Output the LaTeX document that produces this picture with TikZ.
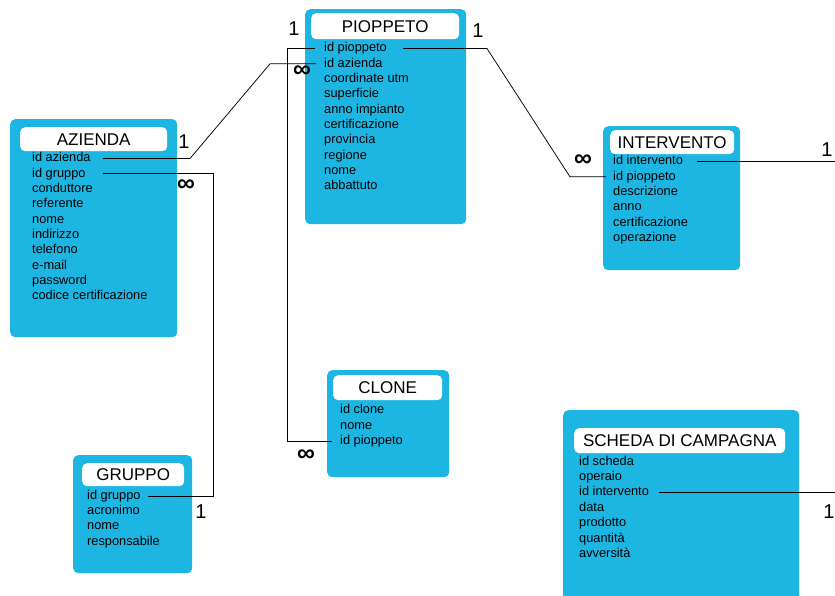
\documentclass[tikz,border=0pt]{standalone}
\usepackage{fontspec}
\setmainfont{Liberation Sans}
\definecolor{azzurro}{RGB}{29,182,227}
\begin{document}
\begin{tikzpicture}[
    x=1pt, y=-1pt,
    tabella/.style={fill=azzurro, rounded corners=5pt, anchor=north west, inner sep=0pt},
    titolo/.style={fill=white, rounded corners=5pt, anchor=north west, inner sep=0pt,
      font=\fontsize{17}{20}\selectfont},
    campo/.style={anchor=west, inner sep=0pt, text height=9pt, text depth=2.5pt,
      font=\fontsize{12.8}{15}\selectfont},
    card/.style={inner sep=0pt, font=\fontsize{20}{24}\selectfont},
    molti/.style={inner sep=0pt, font=\fontsize{25}{28}\selectfont\bfseries},
    rel/.style={line width=0.75pt},
  ]

  \def\dy{15.35}   % passo fra i campi

  \useasboundingbox (0,0) rectangle (835,595);
  \clip (0,0) rectangle (835,595);

  % ---- tabelle ---------------------------------------------------------------
  \node[tabella, minimum width=167pt, minimum height=218pt] (azienda) at (10,119) {};
  \node[tabella, minimum width=161pt, minimum height=215pt] (pioppeto) at (305,9) {};
  \node[tabella, minimum width=137pt, minimum height=144pt] (intervento) at (603,126) {};
  \node[tabella, minimum width=122pt, minimum height=107pt] (clone) at (327,370) {};
  \node[tabella, minimum width=119pt, minimum height=118pt] (gruppo) at (73,455) {};
  \node[tabella, minimum width=236pt, minimum height=220pt] (scheda) at (563,410) {};

  % ---- titoli ----------------------------------------------------------------
  \node[titolo, minimum width=147pt, minimum height=24pt] (t-azienda) at (20,127) {AZIENDA};
  \node[titolo, minimum width=148pt, minimum height=26pt] (t-pioppeto) at (311,13) {PIOPPETO};
  \node[titolo, minimum width=124pt, minimum height=24pt] (t-intervento) at (610,130) {INTERVENTO};
  \node[titolo, minimum width=109pt, minimum height=25pt] (t-clone) at (333,375) {CLONE};
  \node[titolo, minimum width=102pt, minimum height=23pt] (t-gruppo) at (82,463) {GRUPPO};
  \node[titolo, minimum width=211pt, minimum height=25pt] (t-scheda) at (574,428) {SCHEDA DI CAMPAGNA};

  % ---- campi -----------------------------------------------------------------
  \foreach \f [count=\k from 0] in {id azienda,id gruppo,conduttore,referente,nome,indirizzo,telefono,e-mail,password,codice certificazione}
    \node[campo] (az\k) at (32,{158.5+\k*\dy}) {\f};

  \foreach \f [count=\k from 0] in {id pioppeto,id azienda,coordinate utm,superficie,anno impianto,certificazione,provincia,regione,nome,abbattuto}
    \node[campo] (pp\k) at (324,{48.5+\k*\dy}) {\f};

  \foreach \f [count=\k from 0] in {id intervento,id pioppeto,descrizione,anno,certificazione,operazione}
    \node[campo] (iv\k) at (613,{161.5+\k*\dy}) {\f};

  \foreach \f [count=\k from 0] in {id clone,nome,id pioppeto}
    \node[campo] (cl\k) at (340,{410.5+\k*\dy}) {\f};

  \foreach \f [count=\k from 0] in {id gruppo,acronimo,nome,responsabile}
    \node[campo] (gr\k) at (87,{496+\k*\dy}) {\f};

  \foreach \f [count=\k from 0] in {id scheda,operaio,id intervento,data,prodotto,quantità,avversità}
    \node[campo] (sc\k) at (579,{462+\k*\dy}) {\f};

  % ---- relazioni -------------------------------------------------------------
  \draw[rel] ([xshift=71]az0.west) -- ([xshift=158]az0.west)
    -- ([xshift=-54]pp1.west) -- ([xshift=-8]pp1.west);
  \draw[rel] ([xshift=79]pp0.west) -- ([xshift=163]pp0.west)
    -- ([xshift=-43]iv1.west) -- ([xshift=-7]iv1.west);
  \draw[rel] ([xshift=-9]pp0.west) -- ([xshift=-37]pp0.west) |- ([xshift=-8]cl2.west);
  \draw[rel] ([xshift=71]az1.west) -| ([xshift=126]gr0.west) -- ([xshift=61]gr0.west);
  \draw[rel] ([xshift=84]iv0.west) -- ++(200,0) |- ([xshift=80]sc2.west);

  % ---- cardinalita' ----------------------------------------------------------
  \node[card] (c-az1) at (184,142) {1};
  \node[molti] (c-pp1) at (302,72) {∞};
  \node[card] (c-pp0) at (294,29) {1};
  \node[card] (c-pp2) at (478,31) {1};
  \node[molti] (c-iv1) at (583,161) {∞};
  \node[card] (c-iv0) at (827,150) {1};
  \node[molti] (c-az2) at (186,186) {∞};
  \node[card] (c-gr0) at (201,512) {1};
  \node[molti] (c-cl2) at (306,456) {∞};
  \node[card] (c-sc2) at (829,512) {1};

\end{tikzpicture}
\end{document}
